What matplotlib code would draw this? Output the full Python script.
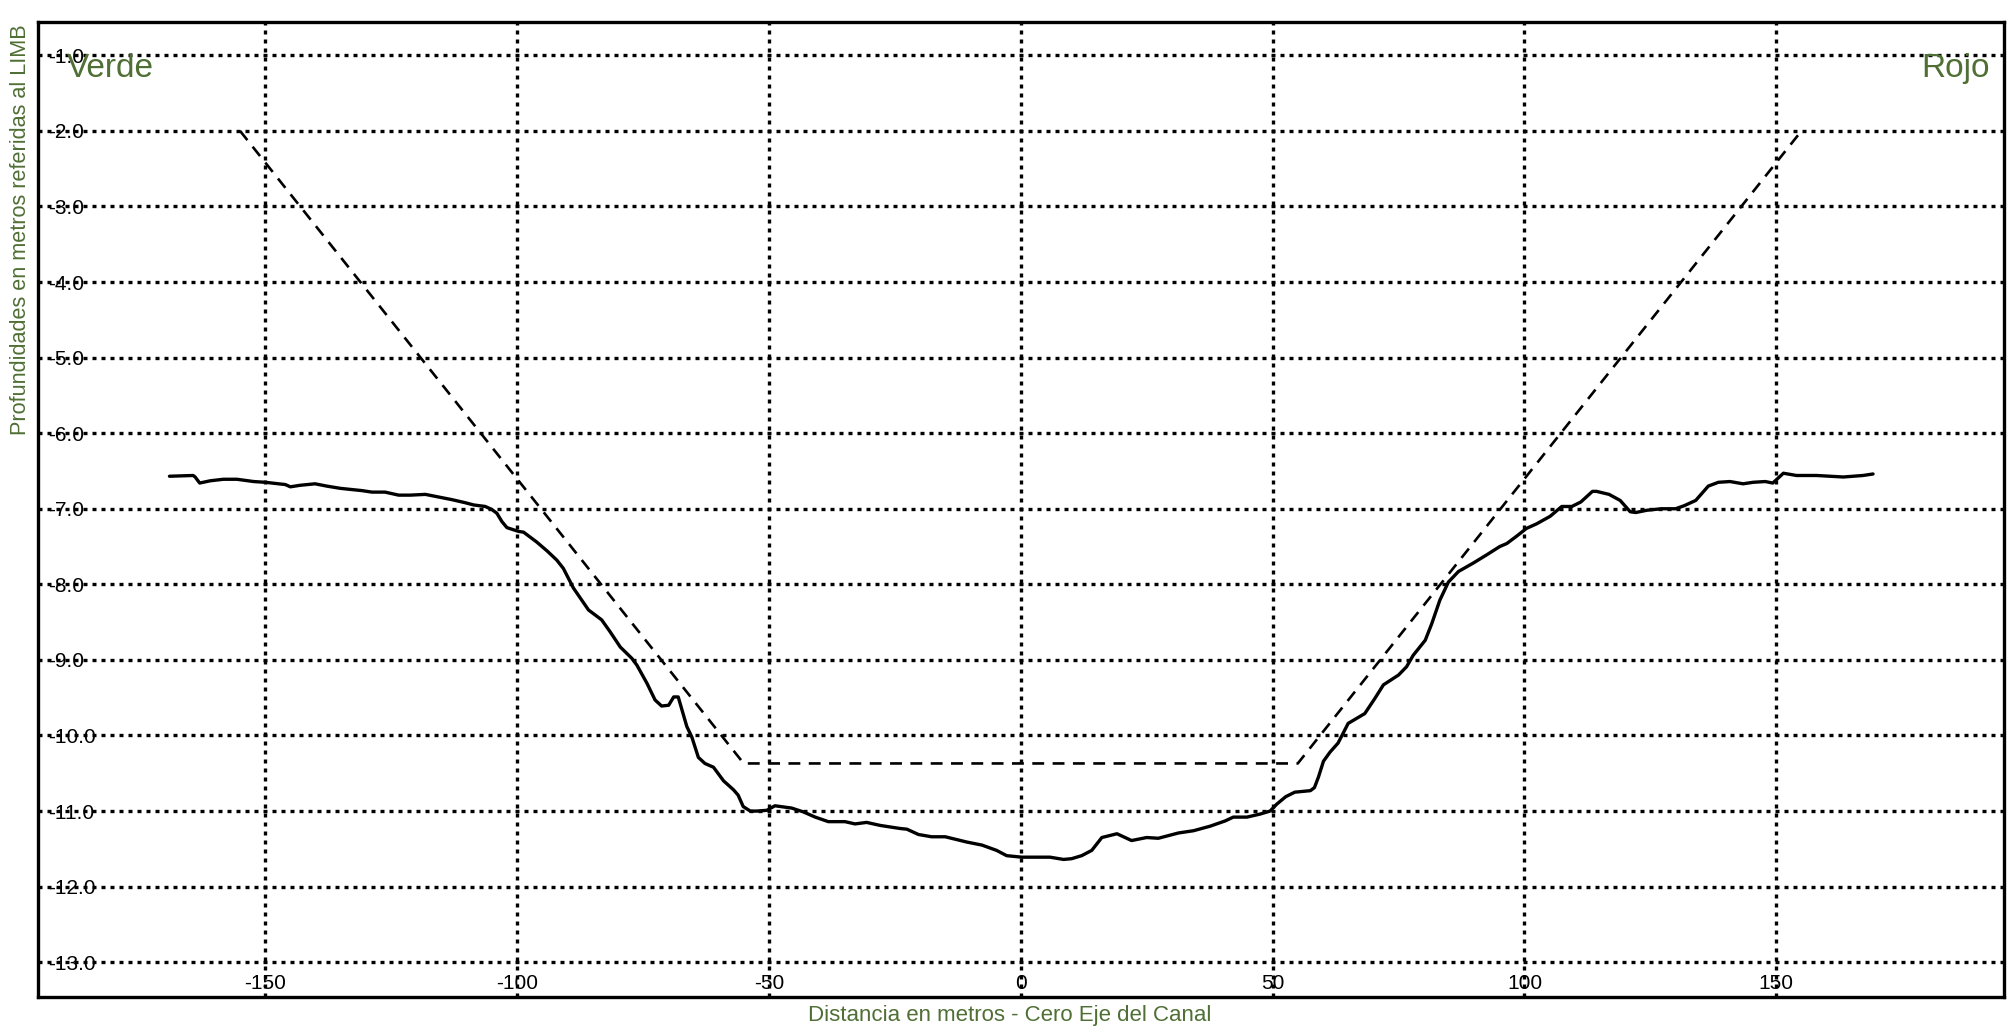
import matplotlib
matplotlib.use("Agg")
import matplotlib.pyplot as plt

plt.rcParams['font.family'] = ['Liberation Sans', 'DejaVu Sans']

# ---- data ----
profile_x = [-169.0, -164.3, -163.9, -163.0, -160.9, -158.3, -155.6, -152.3, -150.0, -146.0,
             -145.0, -143.1, -140.1, -137.8, -135.1, -132.1, -130.8, -128.8, -126.2, -123.5,
             -121.2, -118.2, -115.9, -112.9, -110.3, -108.6, -106.3, -105.0, -104.0, -103.0,
             -102.0, -99.7, -98.7, -96.1, -94.0, -92.1, -90.8, -88.8, -85.8, -83.2,
             -81.5, -79.5, -77.2, -76.2, -74.2, -72.6, -71.3, -69.9, -68.9, -68.0,
             -66.3, -65.3, -64.0, -62.7, -61.0, -59.0, -57.0, -56.1, -55.1, -53.7,
             -52.4, -50.4, -48.8, -45.5, -43.2, -40.8, -38.2, -34.9, -32.9, -30.6,
             -27.9, -24.0, -22.6, -20.3, -17.7, -15.0, -10.7, -7.7, -4.8, -2.8,
             0.2, 4.5, 5.8, 8.5, 10.1, 12.1, 14.1, 16.1, 19.1, 22.0,
             25.0, 27.3, 31.3, 34.3, 37.6, 40.6, 42.2, 44.9, 47.5, 49.5,
             50.8, 52.6, 54.4, 57.5, 58.3, 59.1, 60.1, 61.4, 63.0, 65.0,
             68.3, 70.3, 72.0, 75.0, 76.6, 77.9, 80.3, 81.6, 83.2, 84.9,
             86.9, 89.8, 92.5, 95.1, 96.5, 98.5, 100.4, 102.4, 105.1, 107.4,
             109.4, 111.2, 113.5, 114.3, 116.8, 119.0, 121.0, 122.1, 124.3, 127.2,
             130.0, 131.7, 134.0, 136.5, 138.5, 140.8, 143.4, 145.4, 147.8, 149.3,
             151.4, 154.0, 158.0, 163.3, 167.2, 169.2]
profile_y = [-6.57, -6.56, -6.58, -6.66, -6.63, -6.61, -6.61, -6.64, -6.65, -6.68,
             -6.71, -6.69, -6.67, -6.70, -6.73, -6.75, -6.76, -6.78, -6.78, -6.82,
             -6.82, -6.81, -6.84, -6.88, -6.92, -6.95, -6.97, -7.01, -7.06, -7.17,
             -7.25, -7.30, -7.31, -7.44, -7.56, -7.68, -7.79, -8.05, -8.34, -8.47,
             -8.63, -8.83, -8.98, -9.07, -9.31, -9.53, -9.61, -9.60, -9.49, -9.49,
             -9.88, -10.02, -10.29, -10.37, -10.42, -10.60, -10.72, -10.79, -10.94, -11.00,
             -11.00, -10.99, -10.93, -10.96, -11.01, -11.08, -11.14, -11.14, -11.17, -11.15,
             -11.19, -11.23, -11.24, -11.31, -11.34, -11.34, -11.41, -11.45, -11.52, -11.59,
             -11.61, -11.61, -11.61, -11.64, -11.63, -11.59, -11.52, -11.35, -11.30, -11.39,
             -11.35, -11.36, -11.29, -11.26, -11.20, -11.13, -11.08, -11.08, -11.04, -11.00,
             -10.91, -10.81, -10.75, -10.73, -10.69, -10.55, -10.34, -10.22, -10.10, -9.84,
             -9.71, -9.51, -9.33, -9.20, -9.09, -8.94, -8.74, -8.52, -8.21, -7.97,
             -7.83, -7.72, -7.61, -7.50, -7.46, -7.36, -7.26, -7.20, -7.10, -6.97,
             -6.97, -6.91, -6.77, -6.77, -6.81, -6.89, -7.04, -7.05, -7.02, -7.00,
             -7.00, -6.96, -6.89, -6.70, -6.65, -6.64, -6.67, -6.65, -6.64, -6.66,
             -6.53, -6.56, -6.56, -6.58, -6.56, -6.54]

design_x = [-155.0, -55.0, 55.0, 155.0]
design_y = [-2.0, -10.37, -10.37, -2.0]

x_ticks = [-150, -100, -50, 0, 50, 100, 150]
x_tick_labels = ["-150", "-100", "-50", "0", "50", "100", "150"]
y_ticks = [-1, -2, -3, -4, -5, -6, -7, -8, -9, -10, -11, -12, -13]
y_tick_labels = ["-1.0", "-2.0", "-3.0", "-4.0", "-5.0", "-6.0", "-7.0", "-8.0",
                 "-9.0", "-10.0", "-11.0", "-12.0", "-13.0"]

x_label = "Distancia en metros - Cero Eje del Canal"
y_label = "Profundidades en metros referidas al LIMB"
left_text = "Verde"
right_text = "Rojo"

# ---- style ----
GREEN = "#4F6F35"
W, H = 2010, 1032
fig = plt.figure(figsize=(W / 100, H / 100), dpi=100)
ax = fig.add_axes([38 / W, (H - 997) / H, 1966 / W, 975 / H])

ax.plot(profile_x, profile_y, color="black", linewidth=2.4, solid_joinstyle="round",
        solid_capstyle="round", zorder=3)
ax.plot(design_x, design_y, color="black", linewidth=1.9, linestyle=(0, (4.5, 3.2)), zorder=3)

ax.set_xlim(-195.1, 195.2)
ax.set_ylim(-13.46, -0.56)

ax.set_xticks(x_ticks)
ax.set_xticklabels(x_tick_labels)
ax.set_yticks(y_ticks)
ax.set_yticklabels(y_tick_labels)

ax.grid(True, color="black", linestyle=(0, (1.2, 1.5)), linewidth=2.4)
ax.set_axisbelow(True)

ax.tick_params(axis="both", length=0, labelsize=15, colors="black")
ax.tick_params(axis="y", pad=-7.2)
ax.tick_params(axis="x", pad=-5.8)
for lbl in ax.get_yticklabels():
    lbl.set_horizontalalignment("left")
for lbl in ax.get_xticklabels():
    lbl.set_verticalalignment("baseline")

for sp in ax.spines.values():
    sp.set_linewidth(2.4)
    sp.set_color("black")

ax.set_xlabel(x_label, fontsize=16, color=GREEN, va="baseline")
ax.xaxis.set_label_coords((1010 - 38) / 1966, (997 - 1021) / 975)
ax.set_ylabel(y_label, fontsize=15.6, color=GREEN, va="center")
ax.yaxis.set_label_coords((21 - 38) / 1966, (997 - 229.5) / 975)

ax.text((67 - 38) / 1966, (997 - 77) / 975, left_text, transform=ax.transAxes,
        fontsize=24, color=GREEN, ha="left", va="baseline")
ax.text((1990 - 38) / 1966, (997 - 77) / 975, right_text, transform=ax.transAxes,
        fontsize=24, color=GREEN, ha="right", va="baseline")

fig.savefig("out.png", dpi=100)
